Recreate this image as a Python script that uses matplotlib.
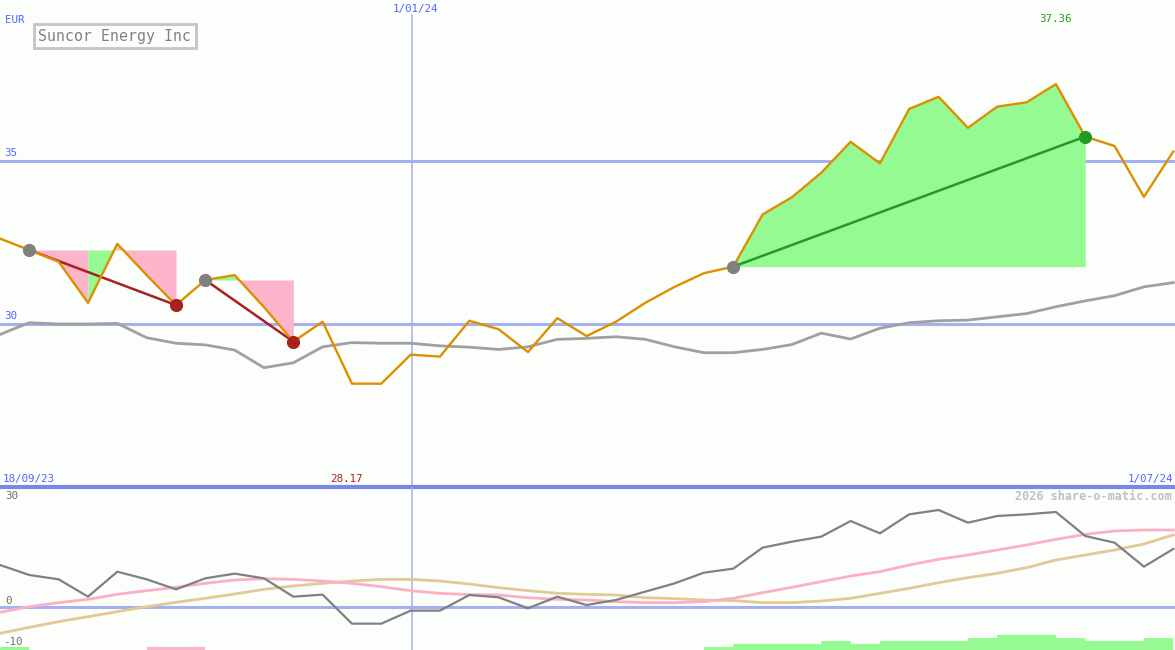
import numpy as np
import matplotlib
matplotlib.use("Agg")
import matplotlib.pyplot as plt
from matplotlib.patches import Rectangle
import matplotlib.transforms as mtransforms

# ---------------- data ----------------
title = "Suncor Energy Inc"
currency = "EUR"
start_label = "18/09/23"
end_label = "1/07/24"
mid_label = "1/01/24"
mid_pos = 14.05
min_label = "28.17"
max_label = "37.36"
credit = "2026 share-o-matic.com"

price = [32.62, 32.27, 31.91, 30.65, 32.46, 31.50, 30.58, 31.35, 31.50, 30.52,
         29.46, 30.07, 28.17, 28.17, 29.06, 29.00, 30.10, 29.84, 29.14, 30.18,
         29.63, 30.07, 30.65, 31.14, 31.56, 31.76, 33.36, 33.89, 34.64, 35.59,
         34.93, 36.60, 36.97, 36.02, 36.67, 36.80, 37.36, 35.75, 35.46, 33.90,
         35.29]
avg = [29.68, 30.04, 30.00, 30.00, 30.02, 29.58, 29.41, 29.36, 29.20, 28.66,
       28.81, 29.30, 29.43, 29.41, 29.41, 29.33, 29.29, 29.22, 29.30, 29.53,
       29.56, 29.61, 29.53, 29.30, 29.12, 29.12, 29.22, 29.37, 29.72, 29.54,
       29.87, 30.04, 30.10, 30.12, 30.22, 30.32, 30.53, 30.71, 30.87, 31.14,
       31.27]
trades = [(1, 6), (7, 10), (25, 37)]

momentum = [10.37, 7.9, 6.83, 2.55, 8.72, 6.83, 4.36, 7.08, 8.23, 7.08,
            2.55, 3.05, -4.11, -4.11, -0.9, -0.9, 2.96, 2.39, -0.33, 2.55,
            0.49, 1.73, 3.79, 5.84, 8.48, 9.47, 14.65, 16.13, 17.37, 21.23,
            18.19, 22.88, 23.95, 20.82, 22.47, 22.88, 23.46, 17.53, 15.88, 9.96,
            14.32]
fast_avg = [-1.3, 0.08, 1.07, 1.89, 3.13, 4.03, 4.86, 5.84, 6.67, 6.99,
            6.83, 6.42, 5.84, 5.02, 4.03, 3.37, 3.05, 2.96, 2.30, 1.89,
            1.73, 1.32, 1.07, 1.07, 1.32, 2.14, 3.54, 4.86, 6.26, 7.65,
            8.72, 10.37, 11.77, 12.84, 14.07, 15.31, 16.71, 17.94, 18.77, 19.01,
            19.01]
slow_avg = [-6.5, -5.02, -3.62, -2.39, -1.15, 0.08, 1.15, 2.14, 3.21, 4.36,
            5.19, 5.84, 6.42, 6.83, 6.83, 6.42, 5.68, 4.77, 4.03, 3.37,
            3.13, 2.96, 2.30, 2.06, 1.73, 1.56, 1.07, 1.07, 1.48, 2.14,
            3.37, 4.61, 6.01, 7.24, 8.31, 9.71, 11.6, 12.84, 14.07, 15.55,
            17.78]
# signal strength per week (positive = green, negative = pink)
signal = [1, 0, 0, 0, 0, -1, -1, 0, 0, 0,
          0, 0, 0, 0, 0, 0, 0, 0, 0, 0,
          0, 0, 0, 0, 1, 2, 2, 2, 3, 2,
          3, 3, 3, 4, 5, 5, 4, 3, 3, 4]

# ---------------- style ----------------
BG = "#fcfefc"
ORANGE = "#dc9000"
GRAY = "#a0a0a0"
PINK = "#fbb4c9"
GREEN = "#96fa92"
DRED = "#a82020"
DGREEN = "#249a24"
GRID = "#a4b0f0"
SEP = "#7888e8"
TXT = "#5464ff"
FONT = "DejaVu Sans Mono"

W, H = 1175, 650
fig = plt.figure(figsize=(W / 100, H / 100), dpi=100, facecolor=BG)
split = 487
ax = fig.add_axes([0, (H - split) / H, 1, split / H], facecolor=BG)
ax2 = fig.add_axes([0, 0, 1, (H - split) / H], facecolor=BG)

x = np.arange(len(price))
xmax = 40.06
for a in (ax, ax2):
    a.set_xlim(0, xmax)
    a.axis("off")

ax.set_ylim(25.0, 39.94)
ax2.set_ylim(-10.62, 29.63)

# grid lines
blend = mtransforms.blended_transform_factory(ax.transAxes, ax.transData)
for lvl in (30, 35):
    ax.axhline(lvl, color=GRID, lw=2.2, zorder=1)
    ax.text(0.004, lvl + 0.08, str(lvl), transform=blend,
            color=TXT, fontsize=7.8, family=FONT, va="bottom", ha="left")
ax2.axhline(0, color=GRID, lw=2.2, zorder=1)
ax.axvline(mid_pos, color=GRID, lw=1.1, ymax=0.97, zorder=1)
ax2.axvline(mid_pos, color=GRID, lw=1.1, zorder=1)
ax.axhline(25.0, color=SEP, lw=3, zorder=6, clip_on=False)

# trade fills: contiguous segments of the same colour merged into one polygon
pa = np.array(price)
for (e, s) in trades:
    lvl = price[e]
    cols = [GREEN if price[k + 1] >= lvl else PINK for k in range(e, s)]
    k0 = e
    for j in range(1, len(cols) + 1):
        if j == len(cols) or cols[j] != cols[j - 1]:
            k1 = e + j
            ax.fill_between(x[k0:k1 + 1], pa[k0:k1 + 1], lvl, color=cols[j - 1],
                            lw=0, zorder=2)
            k0 = k1

ax.plot(x, avg, color=GRAY, lw=2, zorder=3)

for (e, s) in trades:
    win = price[s] >= price[e]
    lc = DGREEN if win else DRED
    ax.plot([x[e], x[s]], [price[e], price[s]], color=lc, lw=1.8, zorder=4)

ax.plot(x, price, color=ORANGE, lw=1.7, zorder=5)

for (e, s) in trades:
    win = price[s] >= price[e]
    lc = DGREEN if win else DRED
    ax.plot(x[e], price[e], "o", ms=9.5, color="#808080", mec="none", zorder=6)
    ax.plot(x[s], price[s], "o", ms=9.5, color=lc, mec="none", zorder=6)

# top texts
def ftext(px, py, s, **kw):
    fig.text(px / W, 1 - py / H, s, family=FONT, **kw)

ftext(5, 20, currency, color=TXT, fontsize=7.8, va="center", ha="left")
ftext(415, 9, mid_label, color=TXT, fontsize=7.8, va="center", ha="center")
imax = int(np.argmax(price))
ax.text(x[imax], 39.35, max_label, color=DGREEN, fontsize=7.8, family=FONT, ha="center", va="center")
imin = int(np.argmin(price))
ax.text(x[imin] - 0.2, 25.25, min_label, color=DRED, fontsize=7.8, family=FONT, ha="center", va="center")
ftext(3, 479, start_label, color=TXT, fontsize=7.8, va="center", ha="left")
ftext(1173, 479, end_label, color=TXT, fontsize=7.8, va="center", ha="right")

ftext(115, 36, title, color="#808080", fontsize=10.7, va="center", ha="center",
      bbox=dict(boxstyle="square,pad=0.32", fc=BG, ec="#c4c4c4", lw=2))

# bottom panel
ax2.plot(x, slow_avg, color="#e2c996", lw=2, zorder=3)
ax2.plot(x, fast_avg, color="#fbb0c8", lw=2, zorder=3)
ax2.plot(x, momentum, color="#808080", lw=1.6, zorder=4)

bar_unit = 0.74
for k, sv in enumerate(signal):
    if sv == 0:
        continue
    col = GREEN if sv > 0 else PINK
    ax2.add_patch(Rectangle((x[k], -10.62), 1.0, abs(sv) * bar_unit, color=col, lw=0, zorder=2))

ftext(5, 496, "30", color="#707070", fontsize=7.8, va="center", ha="left")
ftext(5, 601, "0", color="#707070", fontsize=7.8, va="center", ha="left")
ftext(3, 642, "-10", color="#707070", fontsize=7.8, va="center", ha="left")
ftext(1172, 496, credit, color="#c0c0c0", fontsize=8.5, va="center", ha="right", weight="bold")

fig.savefig("out.png", dpi=100, facecolor=BG)
